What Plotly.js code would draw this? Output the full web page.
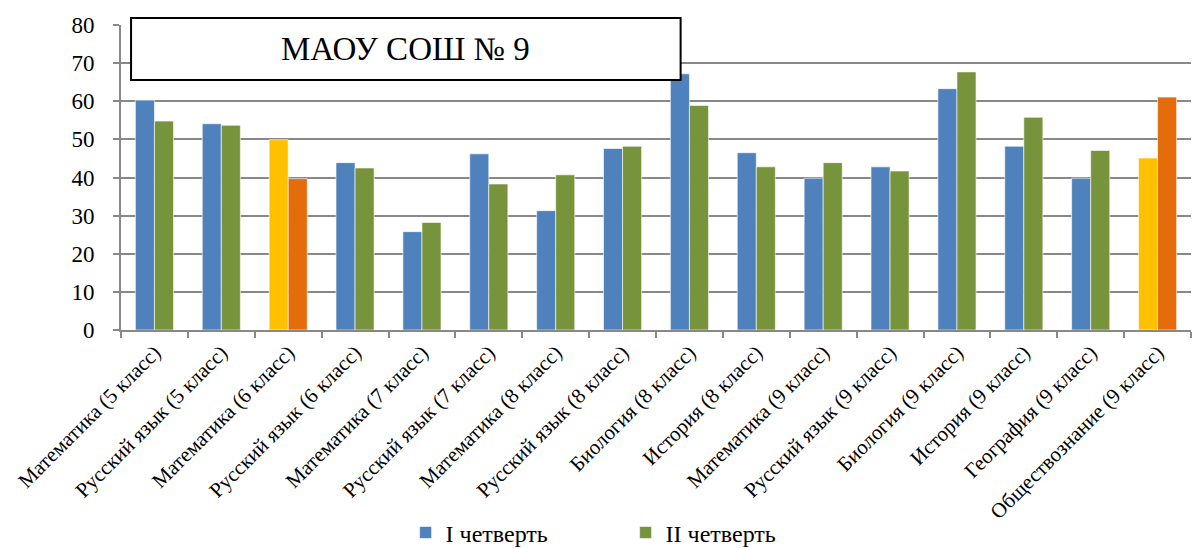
<!DOCTYPE html>
<html>
<head>
<meta charset="utf-8">
<script src="https://cdn.plot.ly/plotly-3.0.1.min.js"></script>
<style>body{margin:0;padding:0;background:#fff;}#chart{width:1196px;height:548px;}</style>
</head>
<body>
<div id="chart"></div>
<script>
const categories = [
  "Математика (5 класс)", "Русский язык (5 класс)", "Математика (6 класс)", "Русский язык (6 класс)",
  "Математика (7 класс)", "Русский язык (7 класс)", "Математика (8 класс)", "Русский язык (8 класс)",
  "Биология (8 класс)", "История (8 класс)", "Математика (9 класс)", "Русский язык (9 класс)",
  "Биология (9 класс)", "История (9 класс)", "География (9 класс)", "Обществознание (9 класс)"
];
const quarter1 = [60.3, 54.1, 49.9, 43.9, 25.8, 46.2, 31.3, 47.6, 67.2, 46.5, 39.8, 42.8, 63.3, 48.2, 39.8, 45.1];
const quarter2 = [54.8, 53.7, 39.7, 42.5, 28.2, 38.3, 40.7, 48.2, 58.9, 42.8, 43.9, 41.7, 67.7, 55.8, 47.1, 61.1];
const highlighted = ["Математика (6 класс)", "Обществознание (9 класс)"];
const seriesNames = ["I четверть", "II четверть"];
const chartTitle = "МАОУ СОШ № 9";

const BLUE = "#4F81BD", GREEN = "#77933C", YELLOW = "#FFC000", ORANGE = "#E46C0A";
const c1 = categories.map(c => highlighted.includes(c) ? YELLOW : BLUE);
const c2 = categories.map(c => highlighted.includes(c) ? ORANGE : GREEN);
const serif = "'Liberation Serif', 'DejaVu Serif', serif";

const traces = [
  {type: "bar", name: seriesNames[0], x: categories, y: quarter1,
   marker: {color: c1, line: {color: "rgba(255,255,255,0.6)", width: 1}}},
  {type: "bar", name: seriesNames[1], x: categories, y: quarter2,
   marker: {color: c2, line: {color: "rgba(255,255,255,0.6)", width: 1}}}
];

const layout = {
  width: 1196, height: 548,
  margin: {l: 121, r: 5, t: 25, b: 218, pad: 0, autoexpand: false},
  paper_bgcolor: "#fff", plot_bgcolor: "#fff",
  barmode: "group", bargap: 0.43, bargroupgap: 0,
  font: {family: serif, color: "#000"},
  showlegend: true,
  legend: {orientation: "h", x: 0.266, xanchor: "left", y: -0.665, yanchor: "middle",
           font: {family: serif, size: 24, color: "#000"}, entrywidth: 175, entrywidthmode: "pixels",
           itemwidth: 30, traceorder: "normal"},
  xaxis: {
    type: "category", tickangle: -45, tickson: "boundaries", ticks: "outside", ticklen: 6,
    tickcolor: "#888", tickwidth: 2, showline: true, linecolor: "#888", linewidth: 2, automargin: false,
    tickfont: {family: serif, size: 21, color: "#000"}, showgrid: false, fixedrange: true
  },
  yaxis: {
    range: [0, 80], dtick: 10, ticks: "outside", ticklen: 6, tickcolor: "#888", tickwidth: 2, automargin: false,
    showline: true, linecolor: "#888", linewidth: 2, showgrid: true, gridcolor: "#888", gridwidth: 2,
    ticklabelstandoff: 14,
    zeroline: false, tickfont: {family: serif, size: 23, color: "#000"}, fixedrange: true
  },
  shapes: [
    {type: "rect", xref: "paper", yref: "paper", x0: 0.0094, x1: 0.523, y0: 0.82, y1: 1.023,
     fillcolor: "#fff", line: {color: "#000", width: 2}, layer: "above"}
  ],
  annotations: [
    {text: chartTitle, xref: "paper", yref: "paper", x: 0.266, y: 0.92, xanchor: "center", yanchor: "middle",
     showarrow: false, font: {family: serif, size: 33, color: "#000"}}
  ]
};

Plotly.newPlot("chart", traces, layout, {displayModeBar: false, staticPlot: true});
</script>
</body>
</html>
